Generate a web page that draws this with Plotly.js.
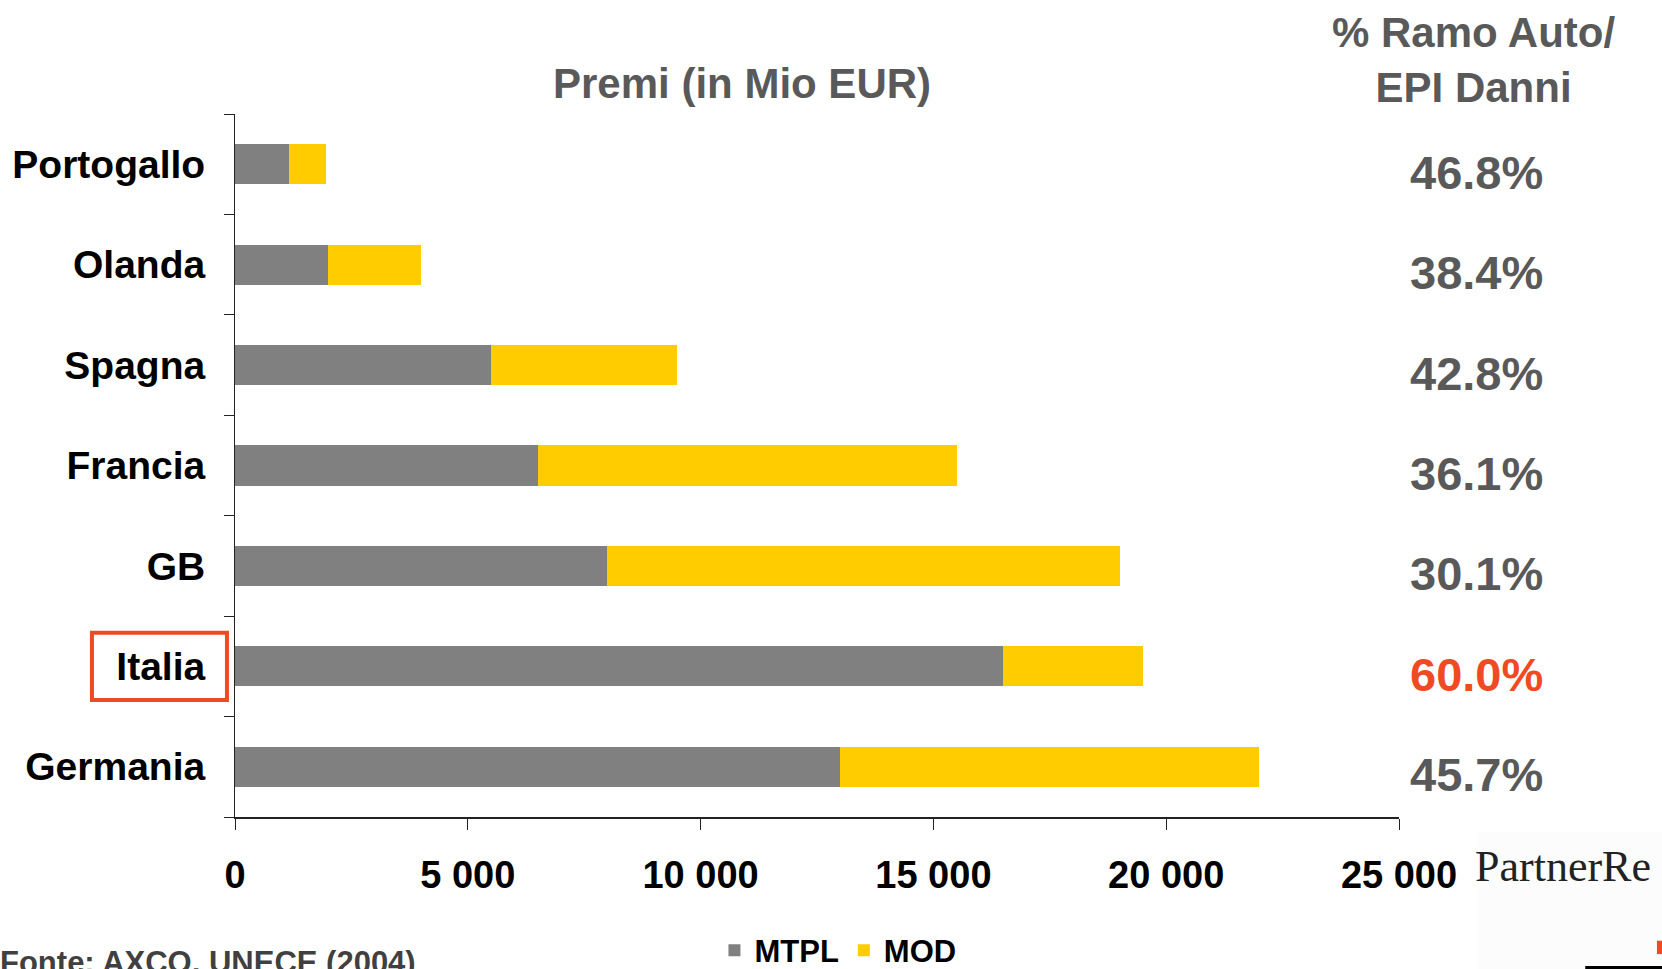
<!DOCTYPE html>
<html>
<head>
<meta charset="utf-8">
<script src="https://cdn.plot.ly/plotly-3.0.1.min.js"></script>
<style>html,body{margin:0;padding:0;background:#fff;}#chart{width:1662px;height:969px;}</style>
</head>
<body>
<div id="chart"></div>
<script>
// Countries listed bottom to top
const countries = ['Germania', 'Italia', 'GB', 'Francia', 'Spagna', 'Olanda', 'Portogallo'];
const mtpl = [13000, 16500, 8000, 6500, 5500, 2000, 1150];
const mod = [9000, 3000, 11000, 9000, 4000, 2000, 800];
const shareAuto = ['45.7%', '60.0%', '30.1%', '36.1%', '42.8%', '38.4%', '46.8%'];
const highlight = 'Italia';
const xTicks = [0, 5000, 10000, 15000, 20000, 25000];

const FONT = 'Liberation Sans, Arial, sans-serif';
const GREY_TXT = '#595959';
const RED = '#F04A24';

const traces = [
  {type: 'bar', orientation: 'h', name: 'MTPL', y: countries, x: mtpl,
   marker: {color: '#808080'}, hoverinfo: 'x+y+name'},
  {type: 'bar', orientation: 'h', name: 'MOD', y: countries, x: mod,
   marker: {color: '#FFCC00'}, hoverinfo: 'x+y+name'}
];

const annotations = countries.map((c, i) => ({
  xref: 'paper', yref: 'y', x: 1.067, y: c, yshift: -8,
  text: shareAuto[i], showarrow: false, xanchor: 'center', yanchor: 'middle',
  font: {family: FONT, size: 47, weight: 'bold', color: c === highlight ? RED : GREY_TXT}
}));
annotations.push({
  xref: 'paper', yref: 'paper', x: 1.0636, y: 1.0775,
  text: '% Ramo Auto/<br>EPI Danni', showarrow: false, xanchor: 'center', yanchor: 'middle',
  font: {family: FONT, size: 42, weight: 'bold', color: GREY_TXT}
});
annotations.push({
  xref: 'paper', yref: 'paper', x: -0.2035, y: -0.179,
  text: 'Fonte: AXCO, UNECE (2004)', showarrow: false, xanchor: 'left', yanchor: 'top',
  font: {family: FONT, size: 31, weight: 'bold', color: '#404040'}
});
annotations.push({
  xref: 'paper', yref: 'paper', x: 1.0635, y: -0.071,
  text: 'PartnerRe', showarrow: false, xanchor: 'left', yanchor: 'middle',
  font: {family: 'Liberation Serif, Times New Roman, serif', size: 44, color: '#222222'}
});

const hi = countries.indexOf(highlight);
const shapes = [
  {type: 'rect', xref: 'paper', yref: 'y', x0: -0.1229, x1: -0.0069, y0: hi - 0.334, y1: hi + 0.334,
   line: {color: RED, width: 4}, fillcolor: 'rgba(0,0,0,0)'},
  {type: 'rect', xref: 'paper', yref: 'paper', x0: 1.067, x1: 1.23, y0: -0.5, y1: -0.021,
   line: {width: 0}, fillcolor: '#fcfcfc', layer: 'below'},
  {type: 'rect', xref: 'paper', yref: 'paper', x0: 1.160, x1: 1.23, y0: -0.22, y1: -0.212,
   line: {width: 0}, fillcolor: '#000000'},
  {type: 'rect', xref: 'paper', yref: 'paper', x0: 1.2216, x1: 1.23, y0: -0.195, y1: -0.176,
   line: {width: 0}, fillcolor: RED}
];

const layout = {
  width: 1662, height: 969,
  margin: {l: 235, r: 263, t: 114, b: 152, autoexpand: false},
  paper_bgcolor: '#ffffff', plot_bgcolor: '#ffffff',
  barmode: 'stack', bargap: 0.6,
  separators: ', ',
  font: {family: FONT, color: '#000000'},
  title: {text: 'Premi (in Mio EUR)', xref: 'paper', x: 0.4356, xanchor: 'center',
          yref: 'container', y: 0.914, yanchor: 'middle',
          font: {family: FONT, size: 42, weight: 'bold', color: GREY_TXT}},
  xaxis: {range: [0, 25000], tickvals: xTicks, tickformat: ',d', separatethousands: true,
          showgrid: false, zeroline: false, showline: true, linecolor: '#222222', linewidth: 2,
          ticks: 'outside', ticklen: 11, tickcolor: '#222222', tickwidth: 1,
          ticklabelstandoff: 12,
          tickfont: {family: FONT, size: 38, weight: 'bold', color: '#000000'}, fixedrange: true},
  yaxis: {type: 'category', categoryorder: 'array', categoryarray: countries, range: [-0.5, 6.5],
          showgrid: false, zeroline: false, showline: true, linecolor: '#222222', linewidth: 1,
          ticks: 'outside', ticklen: 10, tickcolor: '#222222', tickwidth: 1, tickson: 'boundaries',
          ticklabelstandoff: 21,
          tickfont: {family: FONT, size: 39, weight: 'bold', color: '#000000'}, fixedrange: true},
  showlegend: true,
  legend: {orientation: 'h', x: 0.518, xanchor: 'center', y: -0.19, yanchor: 'middle',
           font: {family: FONT, size: 31, weight: 'bold', color: '#000000'},
           traceorder: 'normal', itemwidth: 30, tracegroupgap: 0, bgcolor: 'rgba(0,0,0,0)'},
  annotations: annotations,
  shapes: shapes
};

Plotly.newPlot('chart', traces, layout, {displayModeBar: false, staticPlot: true});
</script>
</body>
</html>
